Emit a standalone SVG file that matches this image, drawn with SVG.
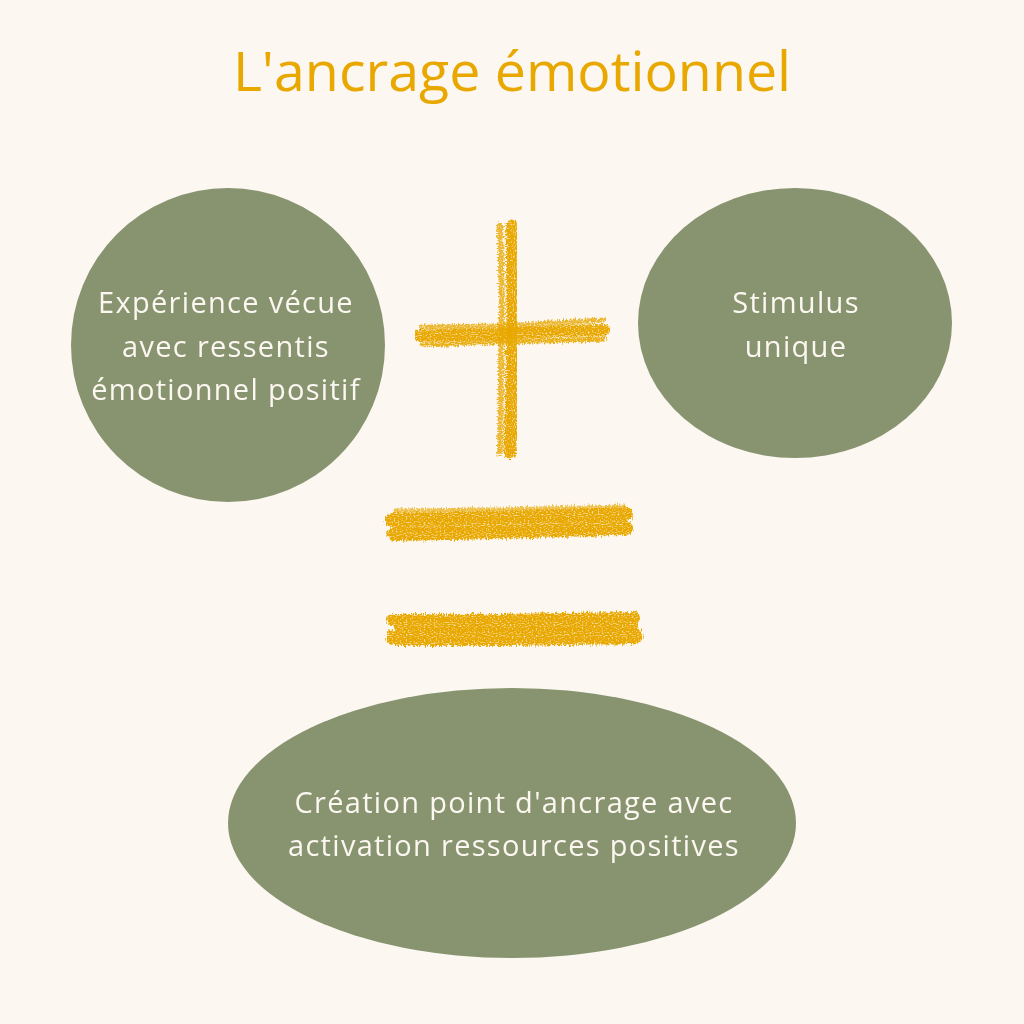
<svg xmlns="http://www.w3.org/2000/svg" width="1024" height="1024" viewBox="0 0 1024 1024">
<defs>
<style>
.node{fill:#87946F}
.t{font-family:"Open Sans","Noto Sans",sans-serif;fill:#FCF7F1;font-size:29px;letter-spacing:1.3px;text-anchor:middle}
.title{font-family:"Open Sans","Noto Sans",sans-serif;fill:#E8A800;font-size:55.5px;text-anchor:middle}
.brush{stroke:#E8A800;fill:none;stroke-linecap:round}
</style>
<filter id="rough" x="-10%" y="-30%" width="120%" height="160%">
<feTurbulence type="fractalNoise" baseFrequency="0.9 0.12" numOctaves="2" seed="3" result="n"/>
<feDisplacementMap in="SourceGraphic" in2="n" scale="7" xChannelSelector="R" yChannelSelector="G" result="d"/>
<feTurbulence type="fractalNoise" baseFrequency="0.5 0.9" numOctaves="1" seed="7" result="n2"/>
<feColorMatrix in="n2" type="matrix" values="0 0 0 0 0  0 0 0 0 0  0 0 0 0 0  0 0 0 -2.6 2.3" result="mask"/>
<feComposite in="d" in2="mask" operator="in"/>
</filter>
<filter id="roughV" x="-30%" y="-10%" width="160%" height="120%">
<feTurbulence type="fractalNoise" baseFrequency="0.12 0.9" numOctaves="2" seed="5" result="n"/>
<feDisplacementMap in="SourceGraphic" in2="n" scale="7" xChannelSelector="R" yChannelSelector="G" result="d"/>
<feTurbulence type="fractalNoise" baseFrequency="0.9 0.5" numOctaves="1" seed="11" result="n2"/>
<feColorMatrix in="n2" type="matrix" values="0 0 0 0 0  0 0 0 0 0  0 0 0 0 0  0 0 0 -2.6 2.3" result="mask"/>
<feComposite in="d" in2="mask" operator="in"/>
</filter>
</defs>
<rect width="1024" height="1024" fill="#FCF7F1"/>
<text class="title" x="512" y="91">L'ancrage émotionnel</text>

<g id="connectors">
<g id="plus">
<g filter="url(#roughV)">
<path class="brush" d="M512 226 L513 300 L512 380 L510 453" stroke-width="13"/>
<path class="brush" d="M500 226 L502 300 L501 380 L500 452" stroke-width="6" opacity="0.8"/>
</g>
<g filter="url(#rough)">
<path class="brush" d="M420 336 L500 334 L560 331 L604 330" stroke-width="12"/>
<path class="brush" d="M421 327 L500 326 L604 320" stroke-width="5" opacity="0.8"/>
<path class="brush" d="M422 345 L500 342 L604 339" stroke-width="5" opacity="0.9"/>
</g>
</g>
<g id="equals" filter="url(#rough)">
<path class="brush" d="M392 520 L500 518 L626 514" stroke-width="14"/>
<path class="brush" d="M394 534 L500 532 L626 528" stroke-width="14"/>
<path class="brush" d="M395 511 L500 510 L625 507" stroke-width="5" opacity="0.7"/>
<path class="brush" d="M392 620 L500 620 L634 618" stroke-width="12"/>
<path class="brush" d="M394 638 L500 638 L635 636" stroke-width="16"/>
<path class="brush" d="M398 628 L500 628 L634 627" stroke-width="8"/>
</g>
</g>

<g id="node-experience">
<circle class="node" cx="228" cy="345" r="157"/>
<text class="t" x="226" y="313">Expérience vécue</text>
<text class="t" x="226" y="357">avec ressentis</text>
<text class="t" x="226" y="400">émotionnel positif</text>
</g>
<g id="node-stimulus">
<ellipse class="node" cx="795" cy="323" rx="157" ry="135"/>
<text class="t" x="796" y="313">Stimulus</text>
<text class="t" x="796" y="357">unique</text>
</g>
<g id="node-creation">
<ellipse class="node" cx="512" cy="823" rx="284" ry="135"/>
<text class="t" x="514" y="813">Création point d'ancrage avec</text>
<text class="t" x="514" y="856">activation ressources positives</text>
</g>
</svg>
